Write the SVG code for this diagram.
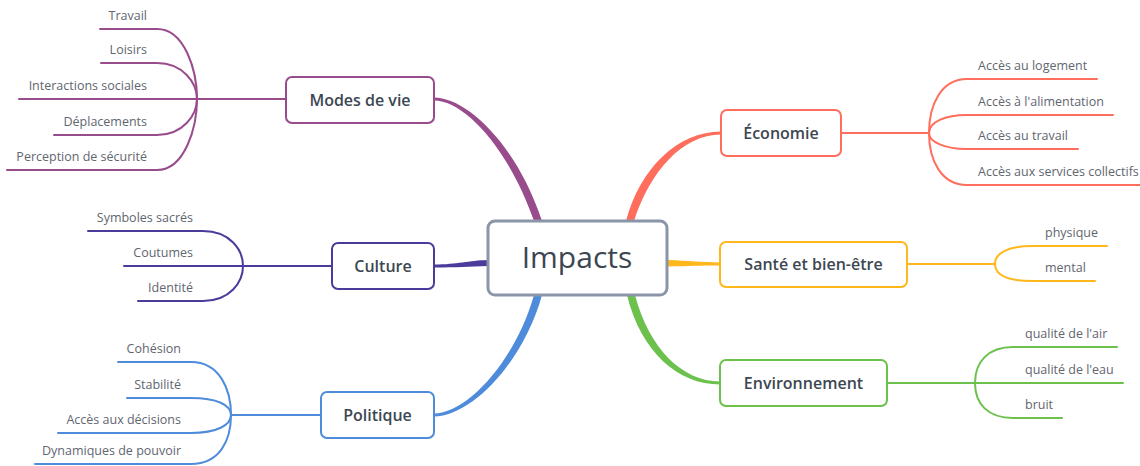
<svg xmlns="http://www.w3.org/2000/svg" width="1140" height="466" viewBox="0 0 1140 466">
<style>
.sub{fill:none;stroke-width:2;stroke-linecap:round}
.node rect{fill:#fff;stroke-width:2}
.nt{font-family:"Open Sans","Noto Sans",sans-serif;font-size:16px;font-weight:600;fill:#3d4752;text-anchor:middle}
.lt{font-family:"Open Sans","Noto Sans",sans-serif;font-size:12.5px;fill:#5f6670}
.r{text-anchor:end}
.purple{stroke:#984c8c}.indigo{stroke:#4b3b9b}.blue{stroke:#4e8cdb}.coral{stroke:#ff6e5c}.amber{stroke:#ffb71b}.green{stroke:#6cc14d}
</style>
<rect width="1140" height="466" fill="#fff"/>
<g id="connectors">
  <path d="M434,97.5 C466,97.5 516,143 542,221 L534,221 C508,147 464,100.5 434,100.5 Z" fill="#984c8c"/>
  <path d="M434,264.5 C458,264.5 468,260.5 488,260 L488,266 C468,266.5 458,267.5 434,267.5 Z" fill="#4b3b9b"/>
  <path d="M434,413.5 C468,413.5 516,359 534,295 L542,295 C524,361 472,416.5 434,416.5 Z" fill="#4e8cdb"/>
  <path d="M721,131.5 C678,131.5 640,168 626,221 L634,221 C650,172 682,134.5 721,134.5 Z" fill="#ff6e5c"/>
  <path d="M667,260 C690,261 700,262 720,262.5 L720,265.5 C700,265.5 690,266 667,266.5 Z" fill="#ffb71b"/>
  <path d="M627,295 C641,352 678,384.5 720,384.5 L720,381.5 C682,381.5 649,348 635,295 Z" fill="#6cc14d"/>
  <g class="sub purple">
    <path d="M100,29 H157 C185,29 197,71 197,99"/>
    <path d="M101,63 H157 C183,63 197,83 197,99"/>
    <path d="M19,99 H286"/>
    <path d="M54,135 H157 C183,135 197,115 197,99"/>
    <path d="M7,170 H157 C185,170 197,127 197,99"/>
  </g>
  <g class="sub indigo">
    <path d="M88,231 H203 C230,231 243,250 243,266"/>
    <path d="M124,266 H332"/>
    <path d="M138,301 H203 C230,301 243,282 243,266"/>
  </g>
  <g class="sub blue">
    <path d="M118,362 H191 C220,362 231,390 231,415"/>
    <path d="M127,398 H191 C217,398 231,405 231,415"/>
    <path d="M58,433 H191 C217,433 231,425 231,415"/>
    <path d="M35,464 H191 C220,464 231,440 231,415"/>
    <path d="M231,415 H321"/>
  </g>
  <g class="sub coral">
    <path d="M841,133 H929"/>
    <path d="M929,133 C929,105 941,79 967,79 H1097"/>
    <path d="M929,133 C929,122 945,115 967,115 H1113"/>
    <path d="M929,133 C929,142 945,149 967,149 H1078"/>
    <path d="M929,133 C929,160 941,185 967,185 H1140"/>
  </g>
  <g class="sub amber">
    <path d="M907,264 H995"/>
    <path d="M995,264 C995,253 1008,246 1033,246 H1107"/>
    <path d="M995,264 C995,275 1008,281 1033,281 H1095"/>
  </g>
  <g class="sub green">
    <path d="M887,383 H1123"/>
    <path d="M975,383 C975,362 988,347 1013,347 H1117"/>
    <path d="M975,383 C975,404 988,418 1013,418 H1062"/>
  </g>
</g>
<g id="impacts" class="node">
  <rect x="488" y="221" width="179" height="74" rx="7" style="stroke:#8a96a8;stroke-width:3"/>
  <text x="577" y="268" class="nt" style="font-size:30px;font-weight:500">Impacts</text>
</g>
<g id="modes-de-vie" class="node">
  <rect x="286" y="77" width="148" height="46" rx="6" class="purple"/>
  <text x="360" y="106" class="nt">Modes de vie</text>
</g>
<g id="culture" class="node">
  <rect x="332" y="243" width="102" height="46" rx="6" class="indigo"/>
  <text x="383" y="272" class="nt">Culture</text>
</g>
<g id="politique" class="node">
  <rect x="321" y="392" width="113" height="46" rx="6" class="blue"/>
  <text x="377.5" y="421" class="nt">Politique</text>
</g>
<g id="economie" class="node">
  <rect x="721" y="110" width="120" height="46" rx="6" class="coral"/>
  <text x="781" y="139" class="nt">Économie</text>
</g>
<g id="sante" class="node">
  <rect x="720" y="242" width="187" height="45" rx="6" class="amber"/>
  <text x="813.5" y="270" class="nt">Santé et bien-être</text>
</g>
<g id="environnement" class="node">
  <rect x="720" y="360" width="167" height="46" rx="6" class="green"/>
  <text x="803.5" y="389" class="nt">Environnement</text>
</g>
<g id="labels">
  <text x="147" y="20" class="lt r">Travail</text>
  <text x="147" y="54" class="lt r">Loisirs</text>
  <text x="147" y="90" class="lt r">Interactions sociales</text>
  <text x="147" y="126" class="lt r">Déplacements</text>
  <text x="147" y="161" class="lt r">Perception de sécurité</text>
  <text x="193" y="222" class="lt r">Symboles sacrés</text>
  <text x="193" y="257" class="lt r">Coutumes</text>
  <text x="193" y="292" class="lt r">Identité</text>
  <text x="181" y="353" class="lt r">Cohésion</text>
  <text x="181" y="389" class="lt r">Stabilité</text>
  <text x="181" y="424" class="lt r">Accès aux décisions</text>
  <text x="181" y="455" class="lt r">Dynamiques de pouvoir</text>
  <text x="978" y="70" class="lt">Accès au logement</text>
  <text x="978" y="106" class="lt">Accès à l'alimentation</text>
  <text x="978" y="140" class="lt">Accès au travail</text>
  <text x="978" y="176" class="lt">Accès aux services collectifs</text>
  <text x="1045" y="237" class="lt">physique</text>
  <text x="1045" y="272" class="lt">mental</text>
  <text x="1025" y="338" class="lt">qualité de l'air</text>
  <text x="1025" y="374" class="lt">qualité de l'eau</text>
  <text x="1025" y="409" class="lt">bruit</text>
</g>
</svg>
